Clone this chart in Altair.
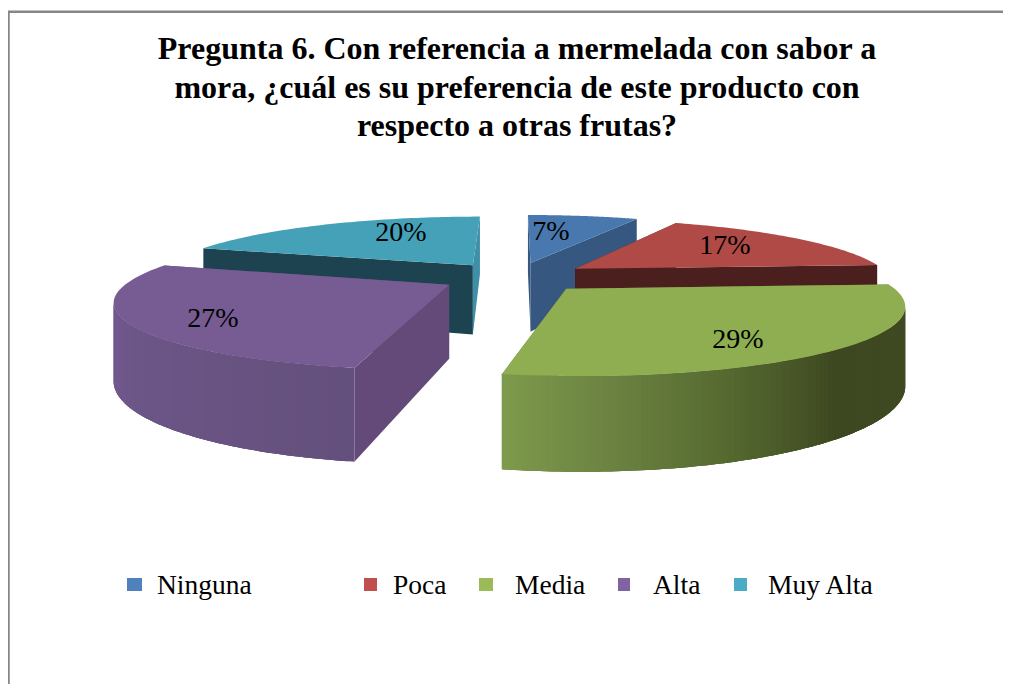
import math
import altair as alt

# ---- chart values ----
CATEGORIES = ["Ninguna", "Poca", "Media", "Alta", "Muy Alta"]
PERCENTS = [7, 17, 29, 27, 20]
TITLE_LINES = [
    "Pregunta 6. Con referencia a mermelada con sabor a",
    "mora, ¿cuál es su preferencia de este producto con",
    "respecto a otras frutas?",
]

# ---- styles ----
TOP_COLORS = ["#4878AE", "#B04A47", "#8FAD51", "#775C94", "#45A1B8"]
LEGEND_COLORS = ["#4F81BD", "#C0504D", "#9BBB59", "#8064A2", "#4BACC6"]
CUT_COLORS = ["#36577F", "#4B1F1E", "#5F7539", "#634A79", "#1E4350"]
WALL_STOPS = [
    [(0.0, "#2F4C70"), (1.0, "#2F4C70")],
    [(0.0, "#4B1F1E"), (1.0, "#4B1F1E")],
    [(0.0, "#46522A"), (0.1, "#414C24"), (0.5, "#3D4720"), (0.7, "#566A30"), (0.85, "#6A8140"), (1.0, "#7E9A4C")],
    [(0.0, "#64507C"), (0.45, "#6C5688"), (0.75, "#775A94"), (1.0, "#7A5C97")],
    [(0.0, "#1E4350"), (1.0, "#1E4350")],
]
DRAW_ORDER = [0, 4, 1, 3, 2]
LABEL_X = [551, 725, 738, 213, 401]
LABEL_Y = [232, 246, 340, 319, 233]
LEGEND_BOX_X = [127, 364, 479, 618, 734]
LEGEND_BOX_W = [15, 13, 14, 12, 13]
LEGEND_TEXT_X = [157, 393, 515, 653, 768]
VIEW_W, H = 1003, 684
MARGIN = 8

# ---- perspective pie model ----
CX, CY, A, B, P, EXPLODE, DEPTH = 515, 277, 316, 63.4, 0.21, 0.236, 72


def project(u, v, drop=False):
    w = 1 + P * v
    x = CX + A * u / w
    y = CY - B * v / w
    if drop:
        y += DEPTH / w
    return [round(x, 2), round(y, 2)]


def hex_mix(c1, c2, t):
    a = [int(c1[i:i + 2], 16) for i in (1, 3, 5)]
    b = [int(c2[i:i + 2], 16) for i in (1, 3, 5)]
    return "#" + "".join(f"{round(p + (q - p) * t):02X}" for p, q in zip(a, b))


def ramp(stops, t):
    for (t0, c0), (t1, c1) in zip(stops, stops[1:]):
        if t <= t1:
            return hex_mix(c0, c1, (t - t0) / (t1 - t0))
    return stops[-1][1]


def poly(points, fill):
    return {
        "type": "Feature",
        "properties": {"fill": fill},
        "geometry": {"type": "Polygon", "coordinates": [points + [points[0]]]},
    }


starts, running = [], 0.0
for p in PERCENTS:
    starts.append(running)
    running += p / sum(PERCENTS) * 2 * math.pi

features = []
for i in DRAW_ORDER:
    t0 = starts[i]
    t1 = t0 + PERCENTS[i] / sum(PERCENTS) * 2 * math.pi
    mid = (t0 + t1) / 2
    au, av = EXPLODE * math.sin(mid), EXPLODE * math.cos(mid)
    rim = lambda t: (au + math.sin(t), av + math.cos(t))
    # radial cuts
    for t in (t0, t1):
        ru, rv = rim(t)
        features.append(poly([project(au, av), project(ru, rv), project(ru, rv, True), project(au, av, True)], CUT_COLORS[i]))
    if i == 4:  # the lighter sliver of the last slice
        features[-1]["properties"]["fill"] = "#3F8FA8"
    # outer wall, as shaded strips; each strip runs under the next to hide seams
    n = 120
    for k in range(n):
        a0 = t0 + (t1 - t0) * k / n
        a1 = t0 + (t1 - t0) * (k + 1) / n
        # keep only the part of the wall that faces the viewer
        if project(*rim(a1))[0] >= project(*rim(a0))[0]:
            continue
        a2 = t0 + (t1 - t0) * min(k + 3, n) / n
        if project(*rim(a2))[0] >= project(*rim(a1))[0]:
            a2 = a1
        pts = [project(*rim(a0 + (a2 - a0) * j / 3)) for j in range(4)]
        pts += [project(*rim(a0 + (a2 - a0) * j / 3), True) for j in range(3, -1, -1)]
        features.append(poly(pts, ramp(WALL_STOPS[i], (k + 0.5) / n)))
    # top face
    pts = [project(au, av)] + [project(*rim(t0 + (t1 - t0) * k / 60)) for k in range(61)]
    features.append(poly(pts, TOP_COLORS[i]))

# ---- scales in picture pixels ----
X = alt.X("x:Q", scale=alt.Scale(domain=[MARGIN, VIEW_W], range=[0, VIEW_W - MARGIN]), axis=None)
Y = alt.Y("y:Q", scale=alt.Scale(domain=[MARGIN, H], range=[0, H - MARGIN]), axis=None)

pie = (
    alt.Chart(alt.Data(values=features))
    .mark_geoshape(strokeWidth=0)
    .encode(fill=alt.Fill("properties.fill:N", scale=None))
    .project(type="identity", scale=1, translate=[-MARGIN, -MARGIN])
)

SERIF = "Liberation Serif"
labels = alt.Chart(alt.Data(values=[
    {"x": x, "y": y, "t": f"{p}%"} for x, y, p in zip(LABEL_X, LABEL_Y, PERCENTS)
])).mark_text(font=SERIF, fontSize=28, color="#000000", baseline="middle").encode(x=X, y=Y, text="t:N")

boxes = alt.Chart(alt.Data(values=[
    {"x": x, "x2": x + w, "y": 578, "y2": 591, "c": c}
    for x, w, c in zip(LEGEND_BOX_X, LEGEND_BOX_W, LEGEND_COLORS)
])).mark_rect().encode(x=X, x2="x2:Q", y=Y, y2="y2:Q", color=alt.Color("c:N", scale=None))

legend_text = alt.Chart(alt.Data(values=[
    {"x": x, "y": 586, "t": c} for x, c in zip(LEGEND_TEXT_X, CATEGORIES)
])).mark_text(font=SERIF, fontSize=27.5, align="left", baseline="middle", color="#000000").encode(x=X, y=Y, text="t:N")

border_v = alt.Chart(alt.Data(values=[{"x": 8.5, "y": 11, "y2": 684}])).mark_rule(
    color="#868686", strokeWidth=2.5).encode(x=X, y=Y, y2="y2:Q")
border_h = alt.Chart(alt.Data(values=[{"x": 8, "x2": 1003, "y": 11.7}])).mark_rule(
    color="#868686", strokeWidth=2.5).encode(x=X, x2="x2:Q", y=Y)

chart = (
    alt.layer(border_v, border_h, pie, labels, boxes, legend_text)
    .properties(
        width=VIEW_W - MARGIN,
        height=H - MARGIN,
        padding=0,
        autosize=alt.AutoSizeParams(type="none"),
        background="#FFFFFF",
        title=alt.TitleParams(
            text=TITLE_LINES, font=SERIF, fontSize=32, fontWeight="bold", color="#000000",
            lineHeight=38.5, anchor="middle", baseline="alphabetic", offset=0, dy=160, dx=11.5,
        ),
    )
    .configure_view(stroke=None)
)
chart.save("out.html", embed_options={"renderer": "svg", "actions": False})
